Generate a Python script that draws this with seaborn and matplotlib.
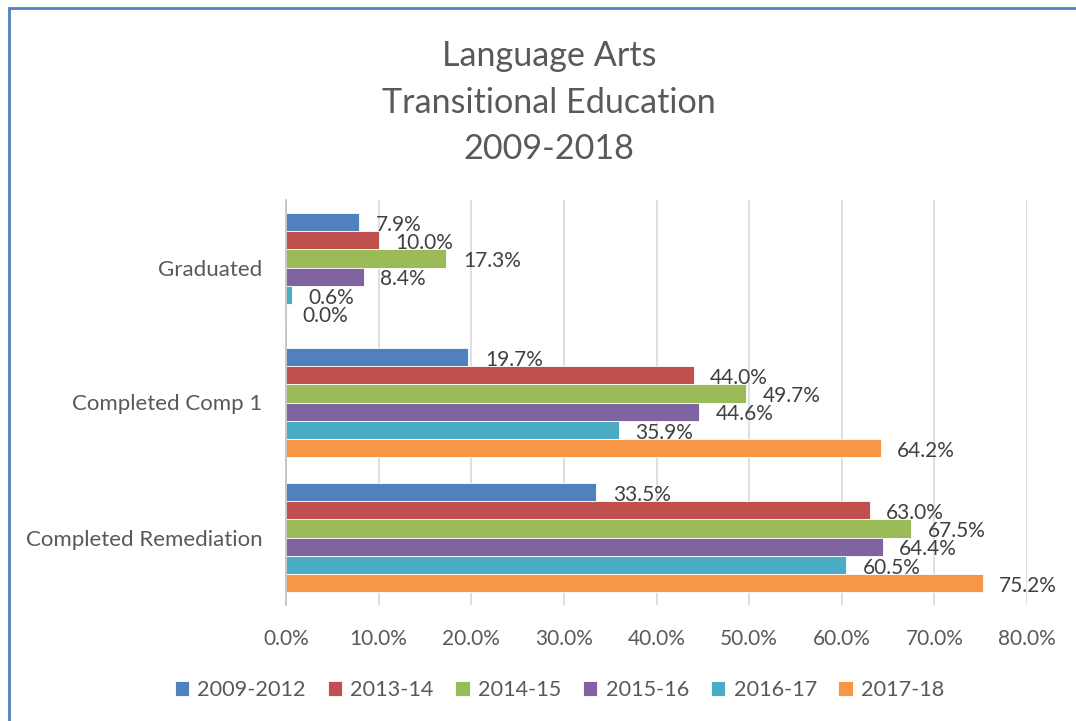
import pandas as pd
import numpy as np
import seaborn as sns
import matplotlib.pyplot as plt
from matplotlib.patches import Rectangle

# data
categories = ["Graduated", "Completed Comp 1", "Completed Remediation"]
years = ["2009-2012", "2013-14", "2014-15", "2015-16", "2016-17", "2017-18"]
vals_2009_2012 = [7.9, 19.7, 33.5]
vals_2013_14 = [10.0, 44.0, 63.0]
vals_2014_15 = [17.3, 49.7, 67.5]
vals_2015_16 = [8.4, 44.6, 64.4]
vals_2016_17 = [0.6, 35.9, 60.5]
vals_2017_18 = [0.0, 64.2, 75.2]
xticks = [0, 10, 20, 30, 40, 50, 60, 70, 80]

colors = ["#4F81BD", "#C0504D", "#9BBB59", "#8064A2", "#4BACC6", "#F79646"]
text_col = "#595959"

series = [vals_2009_2012, vals_2013_14, vals_2014_15, vals_2015_16, vals_2016_17, vals_2017_18]
rows = []
for yr, vals in zip(years, series):
    for cat, v in zip(categories, vals):
        rows.append({"category": cat, "year": yr, "value": v})
df = pd.DataFrame(rows)

sns.set_style("white")
plt.rcParams['font.family'] = ['Lato', 'DejaVu Sans']

fig = plt.figure(figsize=(10.76, 7.21), dpi=100)
ax = fig.add_axes([286/1076, 1 - 605/721, (1027 - 286)/1076, (605 - 200)/721])

sns.barplot(data=df, x="value", y="category", hue="year", orient="h",
            palette=colors, saturation=1, width=0.81, order=categories,
            hue_order=years, edgecolor="white", linewidth=0.6, ax=ax)

# data labels next to each bar
for cont in ax.containers:
    for bar in cont:
        w = bar.get_width()
        ax.annotate(f"{w:.1f}%", (w, bar.get_y() + bar.get_height() / 2),
                    xytext=(12, -2), textcoords="offset points",
                    va="center", ha="left", fontsize=15, color="#404040")

ax.set_xlim(0, 80)
ax.set_ylim(2.5, -0.5)
ax.set_xticks(xticks)
ax.set_xticklabels([f"{t:.1f}%" for t in xticks])
ax.tick_params(axis="x", length=0, pad=17, labelsize=15, labelcolor=text_col)
ax.tick_params(axis="y", length=0, pad=17, labelsize=16, labelcolor=text_col)
ax.set_xlabel("")
ax.set_ylabel("")
ax.grid(axis="x", color="#D9D9D9", linewidth=1.2)
ax.set_axisbelow(True)
for s in ["top", "right", "bottom"]:
    ax.spines[s].set_visible(False)
ax.spines["left"].set_color("#BFBFBF")
ax.spines["left"].set_linewidth(1.2)

handles, labels = ax.get_legend_handles_labels()
ax.get_legend().remove()
fig.legend(handles, labels, loc="center", bbox_to_anchor=(0.52, 1 - 690/721),
           ncol=6, frameon=False, fontsize=15.6, handlelength=0.65, handleheight=0.65,
           handletextpad=0.4, columnspacing=1.0, labelcolor=text_col)

fig.text(0.51, 1 - 40/721, "Language Arts\nTransitional Education\n2009-2018",
         ha="center", va="top", fontsize=24.6, color=text_col, linespacing=1.56)

# chart border
fig.patches.append(Rectangle((9/1076, -0.05), 1.2, 1 - 8/721 + 0.05,
                             transform=fig.transFigure, fill=False,
                             edgecolor="#4F81BD", linewidth=2))

fig.savefig("out.png", dpi=100, facecolor="white")
